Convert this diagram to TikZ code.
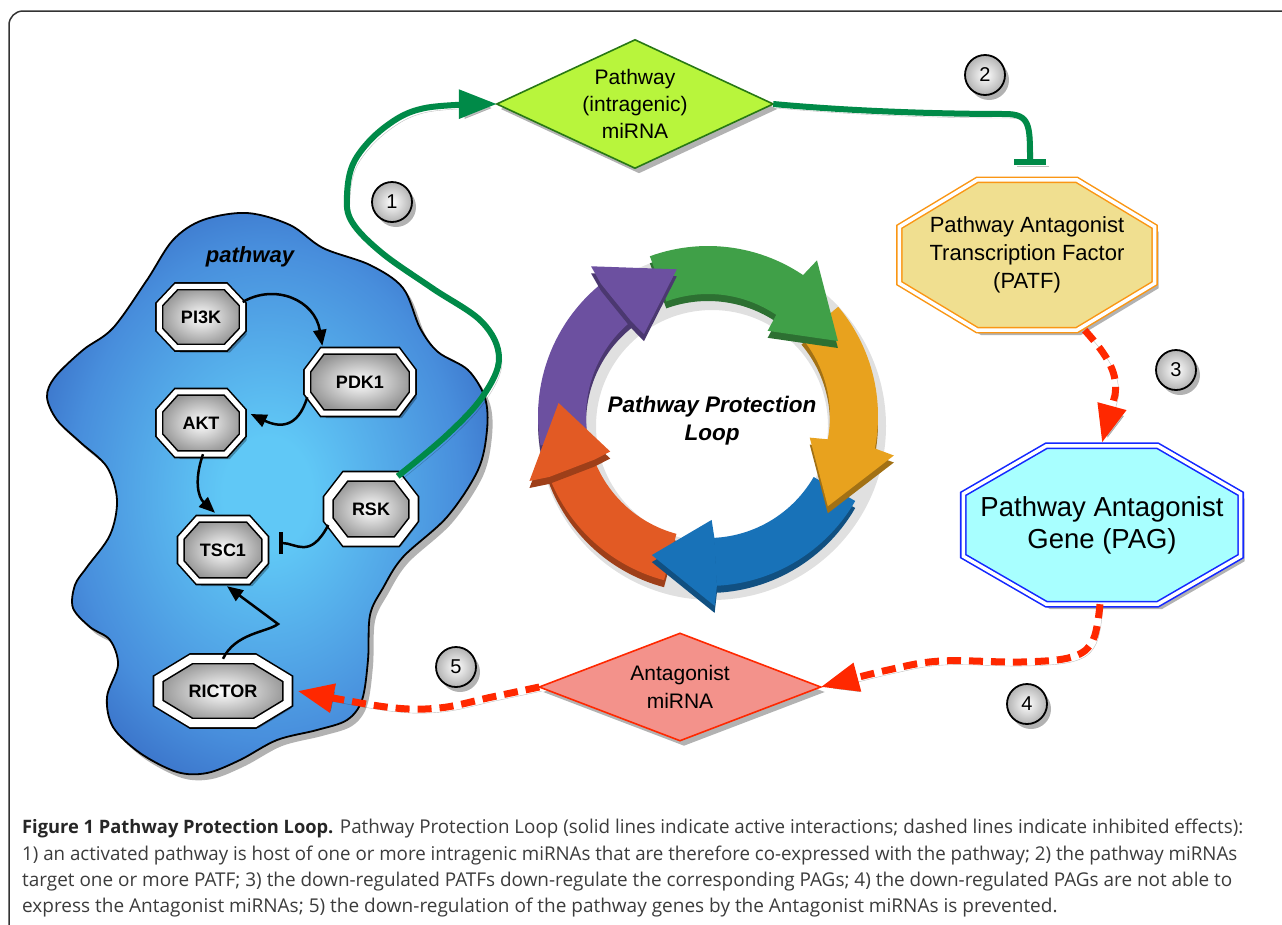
\documentclass[tikz,border=0pt]{standalone}
\usepackage{fontspec}
\setmainfont{Liberation Sans}
\newfontfamily\capfont{Open Sans}
\usetikzlibrary{arrows.meta,calc}
\definecolor{gline}{RGB}{0,138,72}
\definecolor{rline}{RGB}{255,40,0}
\definecolor{pmirfill}{RGB}{184,245,60}
\definecolor{pmirdraw}{RGB}{40,120,20}
\definecolor{amirfill}{RGB}{243,146,139}
\definecolor{amirdraw}{RGB}{255,40,0}
\definecolor{patffill}{RGB}{240,223,144}
\definecolor{patfdraw}{RGB}{250,150,20}
\definecolor{pagfill}{RGB}{168,255,255}
\definecolor{pagdraw}{RGB}{20,40,255}
\definecolor{blobL}{RGB}{96,200,246}
\definecolor{blobM}{RGB}{72,142,220}
\definecolor{blobD}{RGB}{45,88,182}
\definecolor{lgreen}{RGB}{64,160,72}
\definecolor{lyellow}{RGB}{232,162,30}
\definecolor{lblue}{RGB}{24,114,184}
\definecolor{lorange}{RGB}{226,90,36}
\definecolor{lpurple}{RGB}{108,80,160}
\definecolor{captext}{RGB}{60,60,60}
\pgfdeclareradialshading{blobsh}{\pgfpoint{0bp}{0bp}}{color(0bp)=(blobL); color(5bp)=(blobL); color(22bp)=(blobM); color(34bp)=(blobD); color(50bp)=(blobD)}
\pgfdeclarelayer{back}
\pgfdeclarelayer{mid}
\pgfsetlayers{back,mid,main}
\newcommand\octpath[3]{([xshift=#2]#1.north west) -- ([xshift=-#2]#1.north east) -- ([yshift=-#3]#1.north east) -- ([yshift=#3]#1.south east) -- ([xshift=-#2]#1.south east) -- ([xshift=#2]#1.south west) -- ([yshift=#3]#1.south west) -- ([yshift=-#3]#1.north west) -- cycle}
\tikzset{
  shadowed/.style={preaction={fill=black,opacity=.3,transform canvas={xshift=4pt,yshift=-5pt}}},
  gtext/.style={font=\bfseries\fontsize{18}{20}\selectfont, inner sep=0pt},
  genebox/.style={draw=black, line width=1.6pt, double=white, double distance=5pt, shading=radial, inner color=white, outer color=black!42, shadowed},
  genethick/.style={genebox, double distance=8pt},
  numc/.style={circle, minimum size=40pt, inner sep=0pt, draw=black, line width=1.8pt, shading=radial, inner color=white, outer color=black!30, font=\fontsize{20}{20}\selectfont, shadowed},
  gconn/.style={draw=gline, line width=6pt},
  rconn/.style={draw=rline, line width=7pt, dash pattern=on 14pt off 8pt},
  bconn/.style={draw=black, line width=2.5pt},
  cshadow/.style={preaction={draw=black, opacity=.25, transform canvas={xshift=3pt,yshift=-4pt}}},
  capstyle/.style={anchor=base west, inner sep=0pt, font=\capfont\fontsize{19}{22}\selectfont, text=captext},
}
\begin{document}
\begin{tikzpicture}[x=1pt,y=-1pt]
\useasboundingbox (0,0) rectangle (1282,924);
\begin{pgfonlayer}{back}
\fill[white] (0,0) rectangle (1282,924);
\end{pgfonlayer}
% frame
\draw[line width=1.5pt, black!80, rounded corners=14pt] (1300,11) -- (9,11) -- (9,940);

% pathway blob
\begin{pgfonlayer}{back}
\path[shade, shading=blobsh, draw=black, line width=1.8pt, preaction={fill=black,opacity=.3,transform canvas={xshift=5pt,yshift=-6pt}}]
  plot[smooth cycle, tension=0.55] coordinates {(203,220) (247,213) (290,225) (323,248) (370,265) (403,288) (420,328) (438,352) (468,370) (485,398) (487,430) (478,470) (447,517) (403,557) (383,588) (370,615) (368,660) (362,700) (347,720) (317,730) (277,740) (240,760) (207,773) (177,772) (140,753) (113,727) (107,697) (118,665) (110,640) (90,627) (73,608) (75,585) (87,567) (110,535) (117,500) (107,467) (80,442) (57,420) (47,397) (55,377) (83,350) (113,328) (147,280) (173,240)};

% loop ring
\begin{scope}[shift={(708,416)}]
  \fill[black, opacity=.12, even odd rule] (4,10) circle[radius=174pt] (4,10) circle[radius=116pt];
  \foreach \sa/\ba/\cl in {170/232/lpurple, 250/305/lgreen, 320/372/lyellow, 30/88/lblue, 105/160/lorange} {
    \fill[\cl!70!black, yshift=-7pt] plot[domain=\sa:\ba, samples=30] (\x:122) -- plot[domain=\ba:\sa, samples=30] (\x:170) -- cycle;
  }
  \foreach \sa/\ba/\cl in {170/232/lpurple, 250/305/lgreen, 320/372/lyellow, 30/88/lblue, 105/160/lorange} {
    \fill[\cl] plot[domain=\sa:\ba, samples=30] (\x:122) -- plot[domain=\ba:\sa, samples=30] (\x:170) -- cycle;
  }
  \foreach \ba/\ta/\cl in {232/258/lpurple, 305/330/lgreen, 372/397/lyellow, 88/112/lblue, 160/185/lorange} {
    \fill[\cl!70!black, yshift=-7pt] ({\ba-1}:122) -- (\ba:104) -- (\ta:150) -- (\ba:190) -- ({\ba-1}:170) -- cycle;
    \fill[\cl] ({\ba-1}:122) -- (\ba:104) -- (\ta:150) -- (\ba:190) -- ({\ba-1}:170) -- cycle;
  }
\end{scope}
\end{pgfonlayer}

% nodes
\node[gtext, minimum width=83pt, minimum height=61pt] (pi3k) at (201,317) {PI3K};
\node[gtext, minimum width=105pt, minimum height=62pt] (pdk1) at (360,382) {PDK1};
\node[gtext, minimum width=83pt, minimum height=62pt] (akt) at (201,423) {AKT};
\node[gtext, minimum width=84pt, minimum height=62pt] (tsc1) at (223,550) {TSC1};
\node[gtext, minimum width=85pt, minimum height=65pt] (rsk) at (371,509) {RSK};
\node[gtext, minimum width=129pt, minimum height=64pt] (rictor) at (223,691) {RICTOR};
\node[font=\bfseries\itshape\fontsize{22}{24}\selectfont, inner sep=0pt] (pwlabel) at (250,257) {pathway};
\node[font=\bfseries\itshape\fontsize{22.5}{28}\selectfont, align=center, inner sep=0pt] (loopt) at (712,421) {Pathway Protection\\Loop};

\node[font=\fontsize{21}{27}\selectfont, align=center, inner sep=0pt, minimum width=276pt, minimum height=128pt] (pmir) at (635,104) {Pathway\\(intragenic)\\miRNA};
\node[font=\fontsize{21}{28}\selectfont, align=center, inner sep=0pt, minimum width=281pt, minimum height=107pt] (amir) at (680,687) {Antagonist\\miRNA};
\node[font=\fontsize{22}{28}\selectfont, align=center, inner sep=0pt, minimum width=255pt, minimum height=150pt] (patf) at (1027,255) {Pathway Antagonist\\Transcription Factor\\(PATF)};
\node[font=\fontsize{27.5}{32}\selectfont, align=center, inner sep=0pt, minimum width=277pt, minimum height=158pt] (pag) at (1102,525) {Pathway Antagonist\\Gene (PAG)};

\node[numc] (n1) at (392,202) {1};
\node[numc] (n2) at (985,75) {2};
\node[numc] (n3) at (1176,370) {3};
\node[numc] (n4) at (1027,704) {4};
\node[numc] (n5) at (456,667) {5};

% shapes behind texts
\begin{pgfonlayer}{mid}
\path[genebox] \octpath{pi3k}{17pt}{18pt};
\path[genebox] \octpath{pdk1}{15pt}{20pt};
\path[genebox] \octpath{akt}{17pt}{19pt};
\path[genebox] \octpath{tsc1}{17pt}{19pt};
\path[genethick] \octpath{rsk}{17pt}{22pt};
\path[genethick] \octpath{rictor}{33pt}{20pt};
\path[draw=patfdraw, line width=1.5pt, double=white, double distance=3.5pt, fill=patffill, shadowed] \octpath{patf}{78pt}{47pt};
\path[draw=pagdraw, line width=1.6pt, double=white, double distance=3.5pt, fill=pagfill, shadowed] \octpath{pag}{83pt}{48pt};
\path[draw=pmirdraw, line width=1.6pt, fill=pmirfill, shadowed] (pmir.west) -- (pmir.north) -- (pmir.east) -- (pmir.south) -- cycle;
\path[draw=amirdraw, line width=1.6pt, fill=amirfill, shadowed] (amir.west) -- (amir.north) -- (amir.east) -- (amir.south) -- cycle;
\end{pgfonlayer}

% black connectors in pathway
\draw[bconn, -{Triangle[length=16pt,width=13pt]}] ([yshift=15pt]pi3k.east) .. controls (275,283) and (315,300) .. ([xshift=15pt,yshift=5pt]pdk1.north west);
\draw[bconn, -{Triangle[length=16pt,width=13pt]}] ([yshift=16pt]pdk1.south west) .. controls (298,428) and (280,428) .. ([xshift=8pt,yshift=9pt]akt.east);
\draw[bconn, -{Triangle[length=16pt,width=13pt]}] ([xshift=2pt]akt.south) .. controls (194,480) and (198,497) .. ([xshift=-8pt,yshift=6pt]tsc1.north);
\draw[bconn, -{Bar[width=22pt,line width=4pt]}] ([yshift=-16pt]rsk.west) .. controls (310,560) and (296,543) .. ([xshift=14pt,yshift=7pt]tsc1.east);
\draw[bconn, -{Triangle[length=16pt,width=13pt]}] (rictor.north) .. controls (235,633) and (268,632) .. (278,624) -- ([xshift=4pt,yshift=-5pt]tsc1.south);

% green connectors
\draw[gconn, cshadow, -{Triangle[length=38pt,width=28pt]}] plot[smooth, tension=0.6] coordinates {([xshift=-16pt]rsk.north east) (447,435) (483,396) (499,358) (482,322) (432,288) (382,253) (352,222) (347,195) (355,160) (385,127) (425,108) (pmir.west)};
\draw[gconn, cshadow, -{Bar[width=32pt]}] (pmir.east) .. controls (860,112) and (950,114) .. (1005,114) .. controls (1030,114) and (1030,125) .. ([xshift=3pt,yshift=15pt]patf.north);

% red dashed connectors
\draw[rconn, cshadow, -{Triangle[length=38pt,width=28pt]}] ([xshift=-70pt]patf.south east) .. controls (1110,358) and (1118,375) .. (1115,395) -- ([yshift=3pt]pag.north);
\draw[rconn, cshadow, -{Triangle[length=38pt,width=28pt]}] plot[smooth, tension=0.6] coordinates {([xshift=-2pt]pag.south) (1093,640) (1072,657) (1021,662) (941,661) (888,670) (amir.east)};
\draw[rconn, cshadow, -{Triangle[length=36pt,width=28pt]}] plot[smooth, tension=0.6] coordinates {(amir.west) (492,697) (439,708) (386,707) ([xshift=10pt]rictor.east)};

% caption
\node[capstyle] (cap1) at (22,833) {\resizebox{1221pt}{\height}{{\fontsize{18.5}{22}\selectfont\bfseries\color{black!85}Figure 1 Pathway Protection Loop.} Pathway Protection Loop (solid lines indicate active interactions; dashed lines indicate inhibited effects):}};
\node[capstyle] (cap2) at (22,860) {\resizebox{1215pt}{\height}{1) an activated pathway is host of one or more intragenic miRNAs that are therefore co-expressed with the pathway; 2) the pathway miRNAs}};
\node[capstyle] (cap3) at (22,886) {\resizebox{1210pt}{\height}{target one or more PATF; 3) the down-regulated PATFs down-regulate the corresponding PAGs; 4) the down-regulated PAGs are not able to}};
\node[capstyle] (cap4) at (22,912) {express the Antagonist miRNAs; 5) the down-regulation of the pathway genes by the Antagonist miRNAs is prevented.};
\end{tikzpicture}
\end{document}
